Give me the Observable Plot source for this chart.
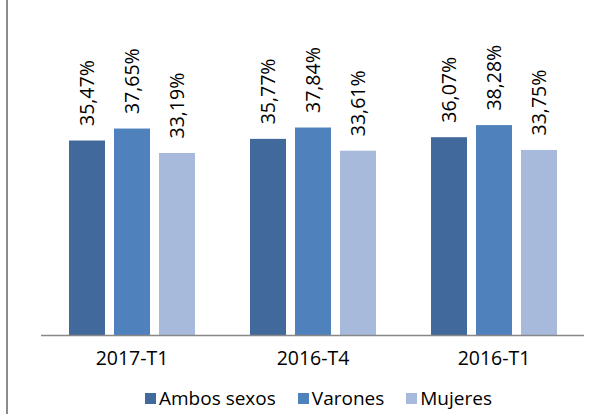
<!DOCTYPE html>
<html>
<head>
<meta charset="utf-8">
<script src="https://cdn.jsdelivr.net/npm/d3@7"></script>
<script src="https://cdn.jsdelivr.net/npm/@observablehq/plot@0.6"></script>
<style>
  html, body { margin: 0; padding: 0; background: #fff; }
  #wrap { position: relative; width: 601px; height: 414px; overflow: hidden; font-family: "Open Sans", sans-serif; }
  #border { position: absolute; left: 6px; top: 0; width: 2px; height: 414px; background: #8c8c8c; }
  #legend { position: absolute; left: 145px; top: 385px; }
  .lg-swatches { font-family: "Open Sans", sans-serif !important; font-size: 19px !important; color: #000 !important; margin: 0 !important; min-height: 0 !important; }
  .lg-swatch { margin-right: 22px !important; }
  .lg-swatch > svg { margin-right: 3px !important; }
</style>
</head>
<body>
<div id="wrap"><div id="border"></div><div id="chart"></div><div id="legend"></div></div>
<script>
const periods = ["2017-T1", "2016-T4", "2016-T1"];
const seriesNames = ["Ambos sexos", "Varones", "Mujeres"];
const seriesColors = ["#41699b", "#4f81bd", "#a8badb"];
const ambos = [35.47, 35.77, 36.07];
const varones = [37.65, 37.84, 38.28];
const mujeres = [33.19, 33.61, 33.75];

const seriesValues = [ambos, varones, mujeres];
const data = [];
periods.forEach((p, i) => {
  seriesNames.forEach((s, j) => {
    data.push({period: p, series: s, value: seriesValues[j][i]});
  });
});
const fmt = v => d3.format(".2f")(v).replace(".", ",") + "%";

const chart = Plot.plot({
  width: 601,
  height: 375,
  marginTop: 6,
  marginBottom: 40,
  marginLeft: 40,
  marginRight: 16,
  style: {fontFamily: "Open Sans, sans-serif", fontSize: "19.5px", color: "#000", background: "transparent", overflow: "visible"},
  fx: {domain: periods, padding: 0, label: null, axis: "bottom", tickSize: 0, tickPadding: 16},
  x: {domain: seriesNames, axis: null, paddingInner: 0.2, paddingOuter: 0.6},
  y: {domain: [0, 60], axis: null},
  color: {domain: seriesNames, range: seriesColors},
  marks: [
    Plot.barY(data, {fx: "period", x: "series", y: "value", fill: "series"}),
    Plot.ruleY([0], {stroke: "#888888", strokeWidth: 1.5}),
    Plot.text(data, {fx: "period", x: "series", y: "value", text: d => fmt(d.value), rotate: -90, textAnchor: "start", dy: -15, fill: "#000", fontSize: 19.5})
  ]
});
document.getElementById("chart").appendChild(chart);

const legend = Plot.legend({
  color: {domain: seriesNames, range: seriesColors},
  swatchSize: 11,
  className: "lg"
});
document.getElementById("legend").appendChild(legend);
</script>
</body>
</html>
